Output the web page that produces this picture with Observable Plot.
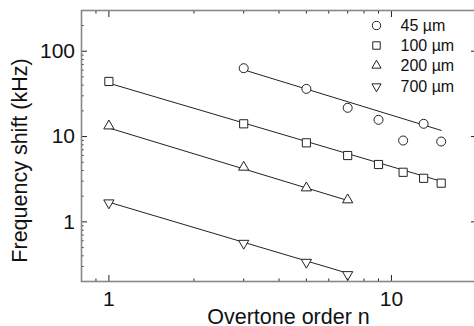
<!DOCTYPE html>
<html><head><meta charset="utf-8">
<script src="https://cdn.jsdelivr.net/npm/d3@7"></script>
<script src="https://cdn.jsdelivr.net/npm/@observablehq/plot@0.6"></script>
<style>
html,body{margin:0;padding:0;background:#fff;overflow:hidden;width:474px;height:326px;}
#chart{width:474px;height:326px;overflow:hidden;}
#chart svg{display:block;max-width:none !important;}
</style></head><body><div id="chart"></div>
<script>
// Measured points (overtone order n, frequency shift in kHz)
const n45 = [3, 5, 7, 9, 11, 13, 15];
const shift45 = [63.2, 36.2, 21.7, 15.7, 8.98, 14.1, 8.74];
const n100 = [1, 3, 5, 7, 9, 11, 13, 15];
const shift100 = [44.2, 14.1, 8.44, 5.99, 4.70, 3.81, 3.24, 2.84];
const n200 = [1, 3, 5, 7];
const shift200 = [13.3, 4.37, 2.50, 1.81];
const n700 = [1, 3, 5, 7];
const shift700 = [1.67, 0.561, 0.336, 0.241];

// Fitted power-law lines (end points)
const fitN45 = [3, 15],  fitShift45 = [60.5, 11.8];
const fitN100 = [1, 15], fitShift100 = [42.2, 2.99];
const fitN200 = [1, 7],  fitShift200 = [12.6, 1.78];
const fitN700 = [1, 7],  fitShift700 = [1.70, 0.250];

const legendLabels = ["45 µm", "100 µm", "200 µm", "700 µm"];
const xMajor = [1, 10];
const xMinor = [0.9, 2, 3, 4, 5, 6, 7, 8, 9, 20];
const yMajor = [1, 10, 100];
const yMinor = [0.2, 0.3, 0.4, 0.5, 0.6, 0.7, 0.8, 0.9, 2, 3, 4, 5, 6, 7, 8, 9, 20, 30, 40, 50, 60, 70, 80, 90, 200];

const pts = (xs, ys) => xs.map((x, i) => ({x, y: ys[i]}));

const triUp = {draw(ctx, size) {
  const y = -Math.sqrt(size / (Math.sqrt(3) * 3));
  ctx.moveTo(0, y * 2); ctx.lineTo(-Math.sqrt(3) * y, -y); ctx.lineTo(Math.sqrt(3) * y, -y); ctx.closePath();
}};
const triDown = {draw(ctx, size) {
  const y = Math.sqrt(size / (Math.sqrt(3) * 3));
  ctx.moveTo(0, y * 2); ctx.lineTo(-Math.sqrt(3) * y, -y); ctx.lineTo(Math.sqrt(3) * y, -y); ctx.closePath();
}};

const series = [
  {pts: pts(n45, shift45), fit: pts(fitN45, fitShift45), symbol: "circle", r: 4.5},
  {pts: pts(n100, shift100), fit: pts(fitN100, fitShift100), symbol: "square", r: 4.6},
  {pts: pts(n200, shift200), fit: pts(fitN200, fitShift200), symbol: triUp, r: 3.8},
  {pts: pts(n700, shift700), fit: pts(fitN700, fitShift700), symbol: triDown, r: 3.8}
];

const ink = "#222";
const marks = [];
for (const s of series) {
  marks.push(Plot.line(s.fit, {x: "x", y: "y", stroke: ink, strokeWidth: 1}));
}
for (const s of series) {
  marks.push(Plot.dot(s.pts, {x: "x", y: "y", symbol: () => s.symbol, r: s.r, stroke: ink, strokeWidth: 1, fill: "white"}));
}
// legend
const legendRowDy = [15, 35, 55, 76];
series.forEach((s, i) => {
  marks.push(Plot.dot([legendLabels[i]], {x: null, y: null, frameAnchor: "top-left", dx: 295, dy: legendRowDy[i], symbol: () => s.symbol, r: s.r - 0.4, stroke: ink, strokeWidth: 1, fill: "white"}));
  marks.push(Plot.text([legendLabels[i]], {text: d => d, frameAnchor: "top-left", dx: 319, dy: legendRowDy[i], textAnchor: "start", lineAnchor: "middle", fontSize: 16, fill: "#111"}));
});
// axes: inward ticks on all four sides
for (const anchor of ["bottom", "top"]) {
  marks.push(Plot.axisX({anchor, ticks: xMajor, tickSize: -6, tickFormat: () => "", label: null, stroke: ink}));
  marks.push(Plot.axisX({anchor, ticks: xMinor, tickSize: -2.5, tickFormat: () => "", label: null, stroke: ink}));
}
for (const anchor of ["left", "right"]) {
  marks.push(Plot.axisY({anchor, ticks: yMajor, tickSize: -6, tickFormat: () => "", label: null, stroke: ink}));
  marks.push(Plot.axisY({anchor, ticks: yMinor, tickSize: -2.5, tickFormat: () => "", label: null, stroke: ink}));
}
marks.push(Plot.axisX({anchor: "bottom", ticks: xMajor, tickSize: 0, tickPadding: 10, tickFormat: d => String(d), label: null, fontSize: 21, fill: "#111"}));
marks.push(Plot.axisY({anchor: "left", ticks: yMajor, tickSize: 0, tickPadding: 6.5, tickFormat: d => String(d), label: null, fontSize: 21, fill: "#111"}));
marks.push(Plot.frame({stroke: "#888", strokeWidth: 1.6}));
marks.push(Plot.text(["Overtone order n"], {text: d => d, frameAnchor: "bottom", dx: 9.5, dy: 42, textAnchor: "middle", lineAnchor: "bottom", fontSize: 21.5, fill: "#111"}));
marks.push(Plot.text(["Frequency shift (kHz)"], {text: d => d, frameAnchor: "left", dx: -61, dy: 14.5, rotate: -90, textAnchor: "middle", lineAnchor: "middle", fontSize: 21.5, fill: "#111"}));

const chart = Plot.plot({
  width: 478,
  height: 326,
  marginLeft: 81,
  marginRight: 2,
  marginTop: 10,
  marginBottom: 45,
  style: {fontFamily: "'Liberation Sans', Arial, Helvetica, sans-serif", background: "white", color: "#111", maxWidth: "none"},
  x: {type: "log", domain: [0.8, 20], axis: null},
  y: {type: "log", domain: [0.2, 300], axis: null},
  marks
});
document.getElementById("chart").append(chart);
</script>
</body></html>
